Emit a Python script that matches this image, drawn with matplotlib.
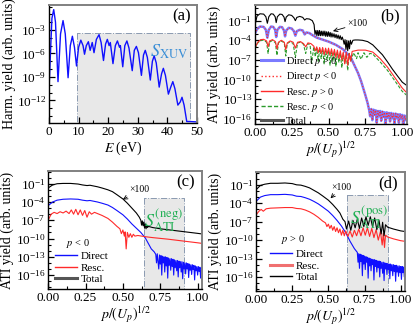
import numpy as np
import matplotlib
matplotlib.use("Agg")
import matplotlib.pyplot as plt
from matplotlib.lines import Line2D
from matplotlib.ticker import FixedLocator, MultipleLocator, NullFormatter

plt.rcParams['font.family'] = ['Liberation Serif', 'DejaVu Sans']
plt.rcParams['mathtext.fontset'] = 'stix'

# ---- (a) harmonic spectrum: E (eV), log10 yield
a_e = [0, 0.5, 1.0, 1.6, 2.2, 3.05, 3.9, 4.75, 5.5, 6.45, 7.2, 7.9, 8.6, 9.3, 10.0, 10.75,
       11.5, 12.0, 12.6, 13.3, 13.9, 14.6, 15.2, 16.0, 16.9, 17.6, 18.4, 19.1, 19.7, 20.3,
       20.7, 21.6, 22.4, 23.1, 23.8, 24.1, 24.9, 25.6, 26.3, 27.0, 28.1, 28.8, 29.5, 30.2,
       31.2, 31.9, 32.5, 33.2, 34.2, 34.9, 35.5, 36.2, 37.2, 38.0, 38.6, 39.3, 40.3, 41.1,
       41.8, 42.5, 43.5, 44.3, 44.9, 45.6, 46.5, 47.5, 50]
a_lg = [-10.8, -6.0, -1.5, -0.4, -2.0, -9.6, -3.5, -1.8, -3.5, -9.1, -5.0, -3.8, -5.2, -7.6,
        -5.2, -4.3, -5.0, -6.1, -5.0, -4.5, -5.6, -4.6, -5.9, -4.2, -3.6, -4.6, -6.9, -4.8,
        -4.2, -5.0, -4.6, -7.3, -5.0, -4.4, -5.2, -5.0, -7.7, -5.0, -4.4, -5.3, -8.2, -5.6,
        -5.1, -5.9, -8.8, -6.2, -5.6, -6.5, -9.4, -7.0, -6.3, -7.2, -10.3, -8.6, -7.9, -8.8,
        -11.2, -10.3, -9.6, -10.5, -12.6, -12.2, -11.6, -12.6, -14.7, -14.7, -14.75]

# ---- (b) both directions
b_tot_p = [0, 0.015, 0.035, 0.06, 0.075, 0.085, 0.095, 0.11, 0.125, 0.138, 0.145, 0.153,
           0.17, 0.185, 0.198, 0.205, 0.213, 0.23, 0.25, 0.265, 0.275, 0.285, 0.305, 0.325,
           0.338, 0.35, 0.37, 0.39, 0.402, 0.408, 0.415, 0.421, 0.427, 0.433, 0.439, 0.445,
           0.451, 0.457, 0.463, 0.469, 0.475, 0.481, 0.487, 0.493, 0.499, 0.505, 0.511,
           0.517, 0.523, 0.53, 0.537, 0.544, 0.551, 0.558, 0.565, 0.572, 0.579, 0.586,
           0.593, 0.6, 0.606, 0.612, 0.618, 0.624, 0.63, 0.636, 0.642, 0.648, 0.655, 0.665,
           0.68, 0.7, 0.73, 0.765, 0.8, 0.83, 0.865, 0.9, 0.933, 0.966, 1.0, 1.03]
b_tot_lg = [-1.8, -0.3, 0.05, 0.0, -0.4, -1.4, -0.4, 0.05, 0.0, -0.4, -1.3, -0.4, 0.0, -0.05,
            -0.45, -1.15, -0.45, -0.1, -0.2, -0.55, -1.0, -0.5, -0.35, -0.5, -0.9, -0.7,
            -0.75, -1.0, -1.6, -3.1, -2.5, -3.3, -2.5, -3.3, -2.5, -3.3, -2.6, -3.3, -2.6,
            -3.3, -2.6, -3.4, -2.7, -3.4, -2.7, -3.4, -2.8, -3.5, -2.9, -3.5, -3.0, -3.6,
            -3.1, -3.7, -3.2, -3.8, -3.3, -3.9, -3.5, -4.0, -4.6, -3.9, -5.4, -4.0, -5.6,
            -4.1, -5.3, -4.0, -4.6, -4.0, -3.95, -3.95, -4.0, -4.2, -4.7, -5.4, -6.2, -7.3,
            -8.4, -9.4, -10.4, -10.9]

b_dir_p = [0, 0.015, 0.035, 0.06, 0.075, 0.085, 0.095, 0.11, 0.125, 0.138, 0.145, 0.153,
           0.17, 0.185, 0.198, 0.205, 0.213, 0.23, 0.25, 0.265, 0.275, 0.285, 0.305, 0.325,
           0.338, 0.35, 0.37, 0.39, 0.42, 0.46, 0.5, 0.55, 0.6, 0.65, 0.7, 0.72, 0.75, 0.765,
           0.775, 0.782, 0.79, 0.797, 0.805, 0.812, 0.82, 0.827, 0.835, 0.842, 0.85, 0.857,
           0.865, 0.872, 0.88, 0.887, 0.895, 0.902, 0.91, 0.917, 0.925, 0.932, 0.94, 0.947,
           0.955, 0.962, 0.97, 0.977, 0.985, 0.992, 1.0, 1.007, 1.015, 1.022, 1.03]
b_dir_lg = [-3.0, -2.3, -1.9, -1.95, -2.4, -3.6, -2.4, -1.9, -1.95, -2.4, -3.5, -2.4, -1.95,
            -2.0, -2.5, -3.4, -2.5, -2.1, -2.2, -2.6, -3.3, -2.6, -2.4, -2.5, -3.1, -2.8,
            -2.9, -3.2, -3.6, -3.9, -4.2, -4.7, -5.4, -6.6, -9.0, -10.2, -12.4, -13.6,
            -14.6, -15.6, -14.5, -16.2, -14.6, -15.4, -14.7, -16.6, -14.8, -15.6, -14.8,
            -16.3, -14.9, -15.7, -15.0, -16.8, -15.0, -15.8, -15.1, -16.4, -15.1, -15.9,
            -15.2, -16.7, -15.2, -15.9, -15.3, -16.6, -15.3, -16.0, -15.4, -16.8, -15.5,
            -16.2, -15.6]

b_rp_p = [0, 0.02, 0.04, 0.06, 0.08, 0.09, 0.1, 0.12, 0.14, 0.15, 0.16, 0.18, 0.2, 0.21,
          0.22, 0.24, 0.26, 0.275, 0.29, 0.31, 0.33, 0.345, 0.36, 0.38, 0.4, 0.41, 0.42, 0.43,
          0.44, 0.45, 0.46, 0.47, 0.48, 0.49, 0.5, 0.51, 0.52, 0.53, 0.54, 0.55, 0.56, 0.57,
          0.58, 0.59, 0.6, 0.61, 0.62, 0.63, 0.64, 0.65, 0.66, 0.7, 0.75, 0.8, 0.85, 0.9,
          0.95, 1.0, 1.03]
b_rp_lg = [-5.2, -4.3, -3.9, -3.85, -4.1, -5.0, -4.1, -3.9, -4.2, -5.3, -4.3, -4.0, -4.3,
           -5.4, -4.4, -4.1, -4.3, -5.2, -4.3, -4.2, -4.5, -5.0, -4.4, -4.5, -4.9, -5.6,
           -5.0, -5.9, -5.1, -6.0, -5.1, -6.2, -5.2, -6.1, -5.2, -6.3, -5.3, -6.4, -5.4,
           -6.6, -5.5, -6.8, -5.6, -7.0, -5.8, -7.6, -5.9, -7.8, -6.0, -7.2, -5.7, -5.5,
           -5.5, -5.8, -6.8, -8.1, -9.7, -11.3, -12.0]

b_rn_p = [0, 0.02, 0.04, 0.06, 0.08, 0.09, 0.1, 0.12, 0.14, 0.15, 0.16, 0.18, 0.2, 0.21,
          0.22, 0.24, 0.26, 0.275, 0.29, 0.31, 0.33, 0.345, 0.36, 0.375, 0.385, 0.4, 0.41,
          0.42, 0.43, 0.44, 0.45, 0.46, 0.47, 0.48, 0.49, 0.5, 0.51, 0.52, 0.53, 0.54,
          0.55, 0.56, 0.57, 0.58, 0.59, 0.6, 0.61, 0.62, 0.63, 0.64, 0.65, 0.67, 0.69,
          0.7, 0.72, 0.74, 0.76, 0.78, 0.8, 0.82, 0.85, 0.9, 0.95, 1.0, 1.03]
b_rn_lg = [-5.3, -4.4, -4.0, -4.0, -4.3, -6.0, -4.3, -4.0, -4.4, -6.3, -4.4, -4.1, -4.4,
           -6.4, -4.5, -4.2, -4.5, -6.6, -4.4, -4.3, -4.6, -6.0, -4.5, -4.7, -7.5, -5.0,
           -6.5, -5.2, -7.2, -5.3, -6.8, -5.3, -7.6, -5.4, -7.0, -5.5, -7.8, -5.6, -7.2,
           -5.7, -8.0, -5.8, -7.4, -5.9, -8.2, -6.0, -7.6, -6.1, -8.6, -6.0, -7.2, -5.9,
           -6.8, -5.9, -6.9, -5.9, -6.6, -6.0, -6.1, -6.6, -7.3, -8.6, -10.2, -11.8, -12.4]

# ---- (c) p < 0
c_tot_p = [0, 0.03, 0.06, 0.1, 0.15, 0.2, 0.23, 0.26, 0.28, 0.3, 0.33, 0.36, 0.4, 0.43,
           0.46, 0.5, 0.53, 0.56, 0.59, 0.61, 0.62, 0.625, 0.63, 0.635, 0.64, 0.645, 0.65,
           0.655, 0.66, 0.665, 0.67, 0.7, 0.75, 0.8, 0.85, 0.9, 0.95, 1.0, 1.03]
c_tot_lg = [-1.7, -1.2, -1.0, -0.95, -0.95, -1.05, -1.2, -1.3, -1.25, -1.35, -1.5, -1.7,
            -2.0, -2.3, -2.8, -3.5, -4.2, -5.0, -5.8, -6.5, -7.0, -7.8, -7.1, -7.9, -7.3,
            -8.3, -7.6, -8.4, -7.8, -8.2, -8.0, -8.2, -8.4, -8.55, -8.7, -8.85, -9.0, -9.15,
            -9.25]

c_dir_p = [0, 0.03, 0.06, 0.1, 0.15, 0.2, 0.23, 0.26, 0.28, 0.3, 0.33, 0.36, 0.4, 0.43,
           0.46, 0.5, 0.53, 0.56, 0.59, 0.62, 0.65, 0.67, 0.69, 0.71, 0.72, 0.725, 0.73,
           0.74, 0.745, 0.75, 0.755, 0.76, 0.765, 0.77, 0.775, 0.78, 0.785, 0.79, 0.795,
           0.8, 0.805, 0.81, 0.815, 0.82, 0.825, 0.83, 0.835, 0.84, 0.845, 0.85, 0.855,
           0.86, 0.865, 0.87, 0.875, 0.88, 0.885, 0.89, 0.895, 0.9, 0.905, 0.91, 0.915,
           0.92, 0.925, 0.93, 0.935, 0.94, 0.945, 0.95, 0.955, 0.96, 0.965, 0.97, 0.975,
           0.98, 0.985, 0.99, 0.995, 1.0, 1.005, 1.01, 1.015, 1.02, 1.025, 1.03]
c_dir_lg = [-4.6, -4.0, -3.7, -3.55, -3.5, -3.55, -3.7, -3.8, -3.75, -3.85, -4.0, -4.2, -4.5,
            -4.9, -5.4, -6.1, -6.8, -7.6, -8.3, -9.0, -9.9, -10.8, -11.7, -12.2, -12.6,
            -14.0, -12.5, -15.0, -12.7, -14.2, -12.8, -16.0, -12.9, -14.0, -13.0, -15.5,
            -13.0, -14.5, -13.1, -16.5, -13.2, -14.4, -13.3, -15.2, -13.3, -14.6, -13.4,
            -16.0, -13.5, -14.8, -13.6, -15.3, -13.6, -16.3, -13.7, -14.8, -13.8, -15.5,
            -13.8, -16.6, -13.9, -15.0, -14.0, -15.8, -14.0, -15.0, -14.1, -16.4, -14.2,
            -15.2, -14.3, -15.9, -14.3, -15.1, -14.4, -16.8, -14.5, -15.3, -14.6, -16.0,
            -14.6, -15.4, -14.7, -16.5, -14.8, -15.2]

c_res_p = [0, 0.02, 0.04, 0.06, 0.08, 0.1, 0.12, 0.14, 0.155, 0.17, 0.185, 0.2, 0.215, 0.23,
           0.245, 0.26, 0.275, 0.29, 0.31, 0.33, 0.36, 0.4, 0.43, 0.46, 0.48, 0.49, 0.5,
           0.51, 0.515, 0.522, 0.53, 0.54, 0.55, 0.56, 0.57, 0.58, 0.6, 0.65, 0.7, 0.8, 0.9,
           1.0, 1.03]
c_res_lg = [-7.0, -6.0, -5.7, -5.9, -5.6, -5.8, -5.5, -5.9, -5.3, -6.0, -5.2, -6.1, -5.3,
            -6.2, -5.4, -6.5, -5.6, -6.0, -5.7, -5.9, -6.2, -6.7, -7.3, -8.0, -8.4, -9.2,
            -8.6, -9.6, -8.9, -11.7, -9.0, -9.8, -9.2, -9.8, -9.3, -9.6, -9.5, -9.7, -9.85,
            -10.1, -10.4, -10.7, -10.8]

# ---- (d) p > 0
d_tot_p = [0, 0.03, 0.06, 0.1, 0.15, 0.2, 0.25, 0.28, 0.31, 0.34, 0.37, 0.4, 0.43, 0.46,
           0.5, 0.53, 0.56, 0.58, 0.6, 0.615, 0.625, 0.64, 0.655, 0.67, 0.685, 0.7, 0.715,
           0.73, 0.745, 0.76, 0.775, 0.79, 0.805, 0.82, 0.835, 0.85, 0.865, 0.875, 0.885,
           0.895, 0.91, 0.95, 1.0, 1.03]
d_tot_lg = [-1.8, -1.1, -0.9, -0.75, -0.75, -0.7, -0.8, -1.0, -1.05, -1.25, -1.5, -1.9,
            -2.3, -2.8, -3.5, -4.2, -5.0, -5.6, -6.6, -7.0, -8.2, -6.9, -8.4, -6.8, -8.0,
            -6.6, -8.1, -6.4, -7.8, -6.2, -7.6, -6.2, -7.8, -6.4, -8.3, -6.8, -9.0, -7.1,
            -9.3, -7.5, -7.9, -8.2, -8.5, -8.6]

d_dir_p = [0, 0.03, 0.06, 0.1, 0.15, 0.2, 0.25, 0.28, 0.31, 0.34, 0.37, 0.4, 0.43, 0.46,
           0.5, 0.53, 0.56, 0.59, 0.62, 0.65, 0.68, 0.7, 0.705, 0.71, 0.715, 0.72, 0.725,
           0.73, 0.735, 0.74, 0.745, 0.75, 0.755, 0.76, 0.765, 0.77, 0.775, 0.78, 0.785,
           0.79, 0.795, 0.8, 0.805, 0.81, 0.815, 0.82, 0.825, 0.83, 0.835, 0.84, 0.845,
           0.85, 0.855, 0.86, 0.865, 0.87, 0.875, 0.88, 0.885, 0.89, 0.895, 0.9, 0.905,
           0.91, 0.915, 0.92, 0.925, 0.93, 0.935, 0.94, 0.945, 0.95, 0.955, 0.96, 0.965,
           0.97, 0.975, 0.98, 0.985, 0.99, 0.995, 1.0, 1.005, 1.01, 1.015, 1.02, 1.025, 1.03]
d_dir_lg = [-3.7, -3.0, -2.75, -2.6, -2.6, -2.55, -2.65, -2.85, -2.9, -3.1, -3.35, -3.7,
            -4.1, -4.6, -5.3, -6.0, -6.8, -7.7, -8.8, -10.2, -11.4, -12.0, -13.6, -12.2,
            -14.6, -12.3, -13.5, -12.4, -15.8, -12.5, -13.9, -12.6, -14.8, -12.7, -13.6,
            -12.8, -16.2, -12.9, -14.2, -13.0, -15.0, -13.1, -14.0, -13.2, -16.5, -13.2,
            -14.3, -13.3, -15.2, -13.4, -14.5, -13.4, -16.0, -13.5, -14.6, -13.6, -15.4,
            -13.6, -16.6, -13.7, -14.7, -13.8, -15.6, -13.8, -14.8, -13.9, -16.3, -13.9,
            -15.0, -14.0, -15.8, -14.0, -15.1, -14.1, -16.7, -14.1, -15.2, -14.2, -15.9,
            -14.2, -15.3, -14.3, -16.4, -14.3, -15.3, -14.4, -16.0, -14.4]

d_res_p = [0, 0.02, 0.035, 0.05, 0.07, 0.1, 0.15, 0.2, 0.25, 0.28, 0.31, 0.34, 0.37, 0.4,
           0.43, 0.46, 0.48, 0.49, 0.5, 0.51, 0.52, 0.53, 0.54, 0.55, 0.56, 0.57, 0.58,
           0.59, 0.6, 0.61, 0.62, 0.635, 0.65, 0.665, 0.68, 0.695, 0.71, 0.725, 0.74, 0.755,
           0.77, 0.785, 0.8, 0.815, 0.83, 0.845, 0.86, 0.872, 0.88, 0.888, 0.895, 0.91,
           0.95, 1.0, 1.03]
d_res_lg = [-5.9, -5.3, -5.0, -5.3, -4.9, -4.8, -4.75, -4.7, -4.7, -4.85, -4.9, -5.1, -5.4,
            -5.8, -6.3, -6.9, -7.2, -7.8, -7.4, -8.1, -7.6, -8.4, -7.8, -8.6, -8.0, -8.8,
            -8.2, -9.2, -8.4, -9.3, -8.5, -9.4, -8.5, -9.5, -8.4, -9.3, -8.2, -9.3, -8.0,
            -9.2, -8.0, -9.4, -8.1, -9.6, -8.3, -10.0, -8.6, -10.8, -8.9, -11.2, -9.2, -9.5,
            -9.8, -10.1, -10.2]

BLUE = '#1010ff'
RED = '#ff2a2a'
GREEN = '#2a9a2a'
FRAME = '#808080'


def pw(lg):
    return 10.0 ** np.asarray(lg)


def style_axes(ax, majors, ylim):
    ax.set_yscale('log')
    ax.set_ylim(10.0 ** ylim[0], 10.0 ** ylim[1])
    ax.yaxis.set_major_locator(FixedLocator([10.0 ** m for m in majors]))
    ax.yaxis.set_minor_locator(FixedLocator([10.0 ** k for k in range(int(ylim[0]) - 1, int(ylim[1]) + 2)]))
    ax.yaxis.set_minor_formatter(NullFormatter())
    ax.tick_params(which='both', direction='in', labelsize=9.5, top=False, right=False)
    ax.tick_params(which='major', length=4, width=0.9, pad=2)
    ax.tick_params(which='minor', length=2.5, width=0.8)
    for s in ['top', 'right']:
        ax.spines[s].set_color(FRAME)
        ax.spines[s].set_linewidth(1.4)
    for s in ['left', 'bottom']:
        ax.spines[s].set_linewidth(1.0)


def shade(ax, x0, x1, ytop):
    ax.fill_between([x0, x1], 1e-30, 10.0 ** ytop, facecolor='#e8e8e8',
                    edgecolor='#8a9ab0', linestyle='-.', linewidth=0.7, zorder=0)


fig = plt.figure(figsize=(4.15, 3.3), dpi=100)
axa = fig.add_axes([0.118, 0.627, 0.357, 0.358])
axb = fig.add_axes([0.614, 0.624, 0.366, 0.361])
axc = fig.add_axes([0.116, 0.124, 0.371, 0.358])
axd = fig.add_axes([0.617, 0.118, 0.359, 0.361])

# (a)
style_axes(axa, [-3, -6, -9, -12], (-14.9, 0.2))
shade(axa, 9.5, 47.5, -3.4)
axa.plot(a_e, pw(a_lg), color=BLUE, lw=1.0)
axa.set_xlim(0, 50)
axa.xaxis.set_major_locator(MultipleLocator(10))
axa.xaxis.set_minor_locator(MultipleLocator(5))
axa.set_xlabel('$E$ (eV)', fontsize=10, labelpad=1)
axa.set_ylabel('Harm. yield (arb. units)', fontsize=10, labelpad=1)
axa.text(0.955, 0.9, '(a)', transform=axa.transAxes, ha='right', va='center', fontsize=12)
axa.text(40.5, 10.0 ** -5.8, r'$S_{\mathrm{XUV}}$', color='#3a8ed6', fontsize=13,
         ha='center', va='center')

# (b)
style_axes(axb, [-1, -4, -7, -10, -13, -16], (-16.8, 1.4))
axb.plot(b_dir_p, pw(b_dir_lg), color='#7b7bff', lw=1.8)
axb.plot(b_dir_p, pw(b_dir_lg), color=RED, lw=0.8, ls=':')
axb.plot(b_rn_p, pw(b_rn_lg), color=GREEN, lw=0.8, ls='--', dashes=(3, 1.5))
axb.plot(b_rp_p, pw(b_rp_lg), color=RED, lw=0.8)
axb.plot(b_tot_p, pw(b_tot_lg), color='black', lw=0.8)
hb = [Line2D([], [], color='#7b7bff', lw=2.2),
      Line2D([], [], color=RED, lw=1.0, ls=':'),
      Line2D([], [], color=RED, lw=1.0),
      Line2D([], [], color=GREEN, lw=1.0, ls='--', dashes=(3, 1.5)),
      Line2D([], [], color='#555555', lw=2.2)]
legb = axb.legend(hb, ['Direct $p$ > 0', 'Direct $p$ < 0', 'Resc. $p$ > 0', 'Resc. $p$ < 0', 'Total'],
                  loc='lower left', bbox_to_anchor=(0.0, -0.065), frameon=False, fontsize=7.5,
                  handlelength=2.1, handletextpad=0.3, labelspacing=0.22, borderaxespad=0.2)
legb.set_zorder(10)
axb.text(0.955, 0.9, '(b)', transform=axb.transAxes, ha='right', va='center', fontsize=12)
axb.annotate('×100', xy=(0.53, 10.0 ** -2.6), xytext=(0.63, 10.0 ** -1.5), fontsize=7,
             va='center', arrowprops=dict(arrowstyle='->', lw=0.6, shrinkA=0, shrinkB=0))

# (c)
style_axes(axc, [-1, -4, -7, -10, -13, -16], (-18.3, 1.1))
shade(axc, 0.64, 0.91, -3.4)
axc.plot(c_dir_p, pw(c_dir_lg), color=BLUE, lw=0.8)
axc.plot(c_res_p, pw(c_res_lg), color=RED, lw=0.8)
axc.plot(c_tot_p, pw(c_tot_lg), color='black', lw=0.8)
hc = [Line2D([], [], color=BLUE, lw=1.0),
      Line2D([], [], color=RED, lw=1.0),
      Line2D([], [], color='#555555', lw=2.2)]
axc.legend(hc, ['Direct', 'Resc.', 'Total'], loc='lower left', bbox_to_anchor=(0.0, -0.015),
           frameon=False, fontsize=8, handlelength=2.0, handletextpad=0.3,
           labelspacing=0.15, borderaxespad=0.2)
axc.text(0.12, 10.0 ** -11.3, '$p$ < 0', fontsize=7.5)
axc.text(0.955, 0.9, '(c)', transform=axc.transAxes, ha='right', va='center', fontsize=12)
axc.text(0.775, 10.0 ** -7.1, r'$S_{\mathrm{ATI}}^{(\mathrm{neg})}$', color='#22b055',
         fontsize=13, ha='center', va='center')
axc.annotate('×100', xy=(0.5, 10.0 ** -3.6), xytext=(0.545, 10.0 ** -2.0), fontsize=7,
             va='center', arrowprops=dict(arrowstyle='->', lw=0.6, shrinkA=0, shrinkB=0))

# (d)
style_axes(axd, [-1, -4, -7, -10, -13, -16], (-18.3, 1.1))
shade(axd, 0.63, 0.91, -2.6)
axd.plot(d_dir_p, pw(d_dir_lg), color=BLUE, lw=0.8)
axd.plot(d_res_p, pw(d_res_lg), color=RED, lw=0.8)
axd.plot(d_tot_p, pw(d_tot_lg), color='black', lw=0.8)
hd = [Line2D([], [], color=BLUE, lw=1.0),
      Line2D([], [], color='#f07070', lw=2.2),
      Line2D([], [], color='black', lw=1.0)]
axd.legend(hd, ['Direct', 'Resc.', 'Total'], loc='lower left', bbox_to_anchor=(0.05, 0.02),
           frameon=False, fontsize=8, handlelength=2.0, handletextpad=0.3,
           labelspacing=0.15, borderaxespad=0.2)
axd.text(0.17, 10.0 ** -10.3, '$p$ > 0', fontsize=7.5)
axd.text(0.955, 0.9, '(d)', transform=axd.transAxes, ha='right', va='center', fontsize=12)
axd.text(0.78, 10.0 ** -6.3, r'$S_{\mathrm{ATI}}^{(\mathrm{pos})}$', color='#22b055',
         fontsize=13, ha='center', va='center')
axd.annotate('×100', xy=(0.515, 10.0 ** -3.2), xytext=(0.52, 10.0 ** -1.4), fontsize=7,
             va='center', arrowprops=dict(arrowstyle='->', lw=0.6, shrinkA=0, shrinkB=0))

for ax in (axb, axc, axd):
    ax.set_xlim(0, 1.03)
    ax.xaxis.set_major_locator(MultipleLocator(0.25))
    ax.xaxis.set_minor_locator(MultipleLocator(0.125))
    ax.xaxis.set_major_formatter(matplotlib.ticker.FormatStrFormatter('%.2f'))
    ax.set_xlabel('$p/(U_p)^{1/2}$', fontsize=10, labelpad=1)
    ax.set_ylabel('ATI yield (arb. units)', fontsize=10, labelpad=1)

fig.savefig('out.png', dpi=100)
